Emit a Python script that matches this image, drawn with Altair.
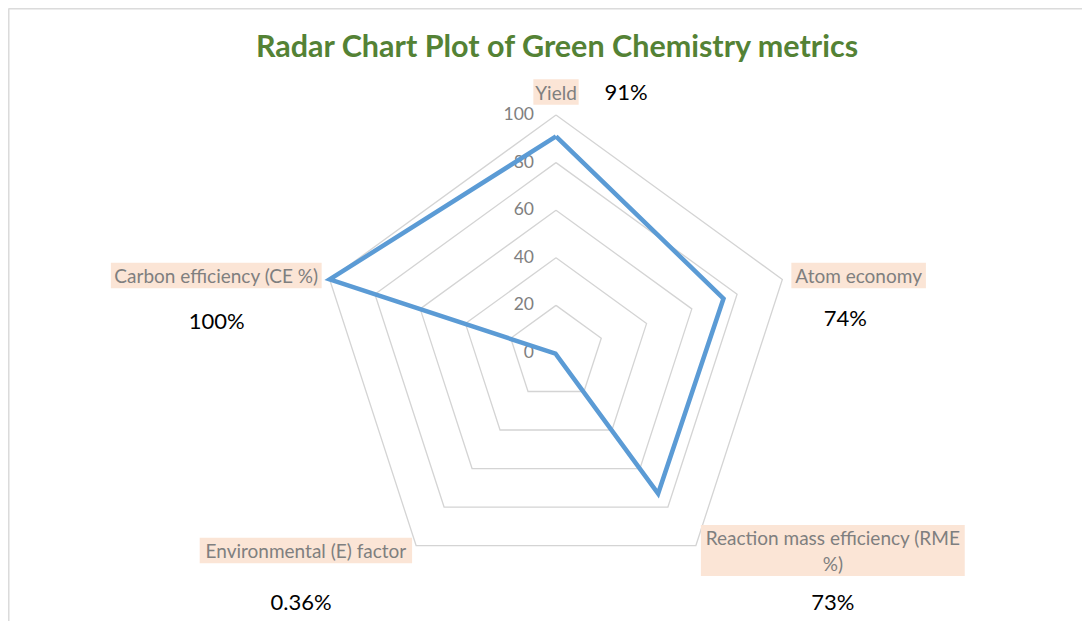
import math
import altair as alt
import pandas as pd

# ---------------- data ----------------
categories = ["Yield", "Atom economy", "Reaction mass efficiency (RME %)",
              "Environmental (E) factor", "Carbon efficiency (CE %)"]
values = [91, 74, 73, 0.36, 100]
value_labels = ["91%", "74%", "73%", "0.36%", "100%"]
grid_levels = [20, 40, 60, 80, 100]
tick_values = [0, 20, 40, 60, 80, 100]
tick_labels = ["0", "20", "40", "60", "80", "100"]
title_text = "Radar Chart Plot of Green Chemistry metrics"

# ---------------- layout ----------------
W, H = 1074, 613          # view size (page margin 8)
CX, CY = 548, 345         # centre of radar in view pixels
K = 2.38                  # pixels per value unit (100 -> 238 px)
FONT = "Lato"

# category label: (box side, dx, dy) relative to the 100-vertex, in px
cat_layout = {
    "Yield": ("center", 0, -23),
    "Atom economy": ("left", 9, -4),
    "Reaction mass efficiency (RME %)": ("left", 5, 5),
    "Environmental (E) factor": ("right", -4, 5),
    "Carbon efficiency (CE %)": ("right", -8, -4),
}
# how a category label is wrapped in its box
wrapped = {"Reaction mass efficiency (RME %)": ["Reaction mass efficiency (RME", "%)"]}
# value label offsets relative to the 100-vertex, in px
val_layout = {
    "Yield": (70, -22),
    "Atom economy": (63, 40),
    "Reaction mass efficiency (RME %)": (137, 57),
    "Environmental (E) factor": (-115, 57),
    "Carbon efficiency (CE %)": (-113, 43),
}

# approximate Calibri advance widths (em/1000) used to size label boxes
CW = {" ": 226, "(": 303, ")": 303, "%": 715, "A": 579, "C": 533, "E": 488,
      "M": 855, "R": 543, "Y": 487, "a": 479, "c": 423, "e": 498, "f": 305,
      "i": 229, "l": 229, "m": 799, "n": 525, "o": 527, "r": 349, "s": 391,
      "t": 335, "v": 452, "y": 453, "d": 525, "b": 525}


def text_w(s, size=21):
    return sum(CW.get(ch, 500) for ch in s) / 1000 * size


def ang(i):
    return math.radians(90 - 72 * i)


n = len(categories)

# series polygon
series = pd.DataFrame({
    "order": list(range(n + 1)),
    "cat": categories + [categories[0]],
    "v": values + [values[0]],
})
series["a"] = [ang(i % n) for i in range(n + 1)]
series["x"] = series["v"] * series["a"].apply(math.cos)
series["y"] = series["v"] * series["a"].apply(math.sin)

# grid polygons
grid_rows = []
for lv in grid_levels:
    for j in range(n + 1):
        a = ang(j % n)
        grid_rows.append({"level": lv, "order": j,
                          "x": lv * math.cos(a), "y": lv * math.sin(a)})
grid = pd.DataFrame(grid_rows)

# value axis tick labels (left of the vertical axis)
ticks = pd.DataFrame({"t": tick_labels, "v": tick_values})
ticks["x"] = -22 / K
ticks["y"] = ticks["v"]

# category labels + boxes
LINE_H = 25.5
lab_rows, box_rows, val_rows = [], [], []
for i, c in enumerate(categories):
    a = ang(i)
    vx, vy = 100 * math.cos(a), 100 * math.sin(a)
    side, dx, dy = cat_layout[c]
    lines = wrapped.get(c, [c])
    w = max(text_w(s) for s in lines) + 4
    h = LINE_H * len(lines)
    if side == "left":
        bcx = dx + w / 2
    elif side == "right":
        bcx = dx - w / 2
    else:
        bcx = dx
    bcy = dy
    cxu, cyu = vx + bcx / K, vy - bcy / K
    box_rows.append({"cat": c, "x1": cxu - w / 2 / K, "x2": cxu + w / 2 / K,
                     "y1": cyu - h / 2 / K, "y2": cyu + h / 2 / K})
    for li, s in enumerate(lines):
        off = (li - (len(lines) - 1) / 2) * LINE_H + 1.5
        lab_rows.append({"cat": c, "txt": s, "x": cxu, "y": cyu - off / K})
    ox, oy = val_layout[c]
    val_rows.append({"cat": c, "txt": value_labels[i],
                     "x": vx + ox / K, "y": vy - oy / K})
boxes = pd.DataFrame(box_rows)
labs = pd.DataFrame(lab_rows)
vals = pd.DataFrame(val_rows)

xs = alt.Scale(domain=[-CX / K, (W - CX) / K], nice=False, zero=False)
ys = alt.Scale(domain=[-(H - CY) / K, CY / K], nice=False, zero=False)
X = lambda f="x": alt.X(f"{f}:Q", scale=xs, axis=None)
Y = lambda f="y": alt.Y(f"{f}:Q", scale=ys, axis=None)

grid_layer = alt.Chart(grid).mark_line(color="#d4d4d4", strokeWidth=1.3).encode(
    x=X(), y=Y(), detail="level:N", order="order:Q")

series_layer = alt.Chart(series).mark_line(
    color="#5b9bd5", strokeWidth=4.5, strokeJoin="miter").encode(
    x=X(), y=Y(), order="order:Q")

tick_layer = alt.Chart(ticks).mark_text(
    align="right", baseline="middle", font=FONT, fontSize=17.5, color="#808080").encode(
    x=X(), y=Y(), text="t:N")

box_layer = alt.Chart(boxes).mark_rect(color="#fbe5d6").encode(
    x=alt.X("x1:Q", scale=xs, axis=None), x2="x2:Q",
    y=alt.Y("y1:Q", scale=ys, axis=None), y2="y2:Q")

lab_layer = alt.Chart(labs).mark_text(
    align="center", baseline="middle", font=FONT, fontSize=19, color="#7f7f7f").encode(
    x=X(), y=Y(), text="txt:N")

val_layer = alt.Chart(vals).mark_text(
    align="center", baseline="middle", font=FONT, fontSize=22, color="#000000").encode(
    x=X(), y=Y(), text="txt:N")

title_layer = alt.Chart(pd.DataFrame({"t": [title_text]})).mark_text(
    align="center", baseline="middle", font=FONT, fontSize=30.5, fontWeight="bold",
    color="#548235").encode(x=alt.value(549), y=alt.value(40), text="t:N")

border_top = alt.Chart(pd.DataFrame({"a": [0]})).mark_rule(
    color="#d9d9d9", strokeWidth=1).encode(
    x=alt.value(1), x2=alt.value(W), y=alt.value(1))
border_left = alt.Chart(pd.DataFrame({"a": [0]})).mark_rule(
    color="#d9d9d9", strokeWidth=1).encode(
    x=alt.value(1), y=alt.value(1), y2=alt.value(H))

chart = alt.layer(
    border_top, border_left, grid_layer, box_layer, tick_layer,
    series_layer, lab_layer, val_layer, title_layer
).properties(
    width=W, height=H, padding=0, autosize=alt.AutoSizeParams(type="none")
).configure_view(stroke=None).configure(background="white")

chart.save("out.html", embed_options={"renderer": "svg", "actions": False})
